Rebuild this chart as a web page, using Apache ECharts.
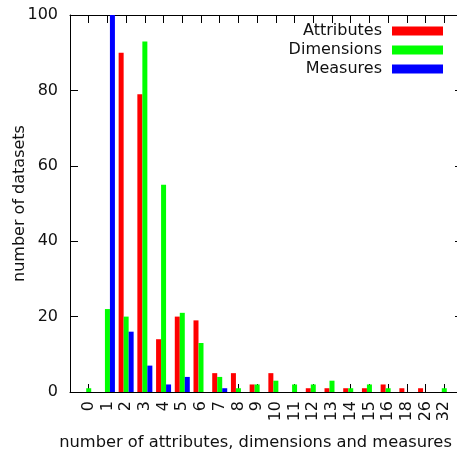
<!DOCTYPE html>
<html><head><meta charset="utf-8">
<script src="https://cdn.jsdelivr.net/npm/echarts@6/dist/echarts.min.js"></script>
<style>html,body{margin:0;padding:0;background:#fff}#c{width:457px;height:451px}</style>
</head><body><div id="c"></div>
<script>
const categories = ['0','1','2','3','4','5','6','7','8','9','10','11','12','13','14','15','16','18','26','32'];
const attributes = [0,0,90,79,14,20,19,5,5,2,5,0,1,1,1,1,2,1,1,0];
const dimensions = [1,22,20,93,55,21,13,4,1,2,3,2,2,3,1,2,1,0,0,1];
const measures   = [0,100,16,7,2,4,0,1,0,0,0,0,0,0,0,0,0,0,0,0];
const seriesNames = ['Attributes','Dimensions','Measures'];
const seriesColors = ['#ff0000','#00ff00','#0000ff'];
const yMin = 0, yMax = 100, yStep = 20;

const FONT = 'DejaVu Sans';
const TXT = '#111';
const chart = echarts.init(document.getElementById('c'), null, {renderer:'canvas'});
const toPairs = arr => arr.map((v,i)=>[i,v]);
const allData = [attributes, dimensions, measures];

const tickStyle = {show:true, inside:true, length:8, lineStyle:{color:'#000', width:1}};
const lineStyle = {show:true, onZero:false, lineStyle:{color:'#000', width:1}};

chart.setOption({
  animation:false,
  backgroundColor:'#fff',
  grid:{left:70, top:15, right:-6, bottom:59, containLabel:false, outerBoundsMode:'none'},
  legend: seriesNames.map((n,i)=>({
    data:[n], orient:'vertical', align:'right', right:14, top:23+i*19,
    itemWidth:51, itemHeight:9, itemGap:0, padding:0, itemStyle:{borderWidth:0},
    textStyle:{fontFamily:FONT, fontSize:16, color:TXT, lineHeight:16, padding:[0,5,0,0]},
    icon:'rect', selectedMode:false
  })),
  xAxis:[{
    type:'value', min:-1, max:20, interval:1, position:'bottom',
    axisLine:lineStyle, axisTick:tickStyle, splitLine:{show:false},
    axisLabel:{rotate:90, margin:9, fontFamily:FONT, fontSize:16, color:TXT,
      showMinLabel:true, showMaxLabel:true,
      formatter:v=>categories[v]!==undefined?categories[v]:''},
    name:'number of attributes, dimensions and measures', nameLocation:'middle', nameGap:43,
    nameMoveOverlap:false,
    nameTextStyle:{fontFamily:FONT, fontSize:16.3, color:TXT, padding:[0,22,0,0]}
  },{
    type:'value', min:-1, max:20, interval:1, position:'top',
    axisLine:lineStyle, axisTick:tickStyle, splitLine:{show:false}, axisLabel:{show:false}
  }],
  yAxis:[{
    type:'value', min:yMin, max:yMax, interval:yStep, position:'left',
    axisLine:lineStyle, axisTick:tickStyle, splitLine:{show:false},
    axisLabel:{margin:12, fontFamily:FONT, fontSize:16, color:TXT},
    name:'number of datasets', nameLocation:'middle', nameGap:42, nameMoveOverlap:false,
    nameTextStyle:{fontFamily:FONT, fontSize:16, color:TXT}
  },{
    type:'value', min:yMin, max:yMax, interval:yStep, position:'right',
    axisLine:lineStyle, axisTick:tickStyle, splitLine:{show:false}, axisLabel:{show:false}
  }],
  series: seriesNames.map((n,i)=>({
    name:n, type:'bar', xAxisIndex:0, yAxisIndex:0,
    data:toPairs(allData[i]), barWidth:5, barGap:'0%',
    itemStyle:{color:seriesColors[i]}
  }))
});
</script></body></html>
